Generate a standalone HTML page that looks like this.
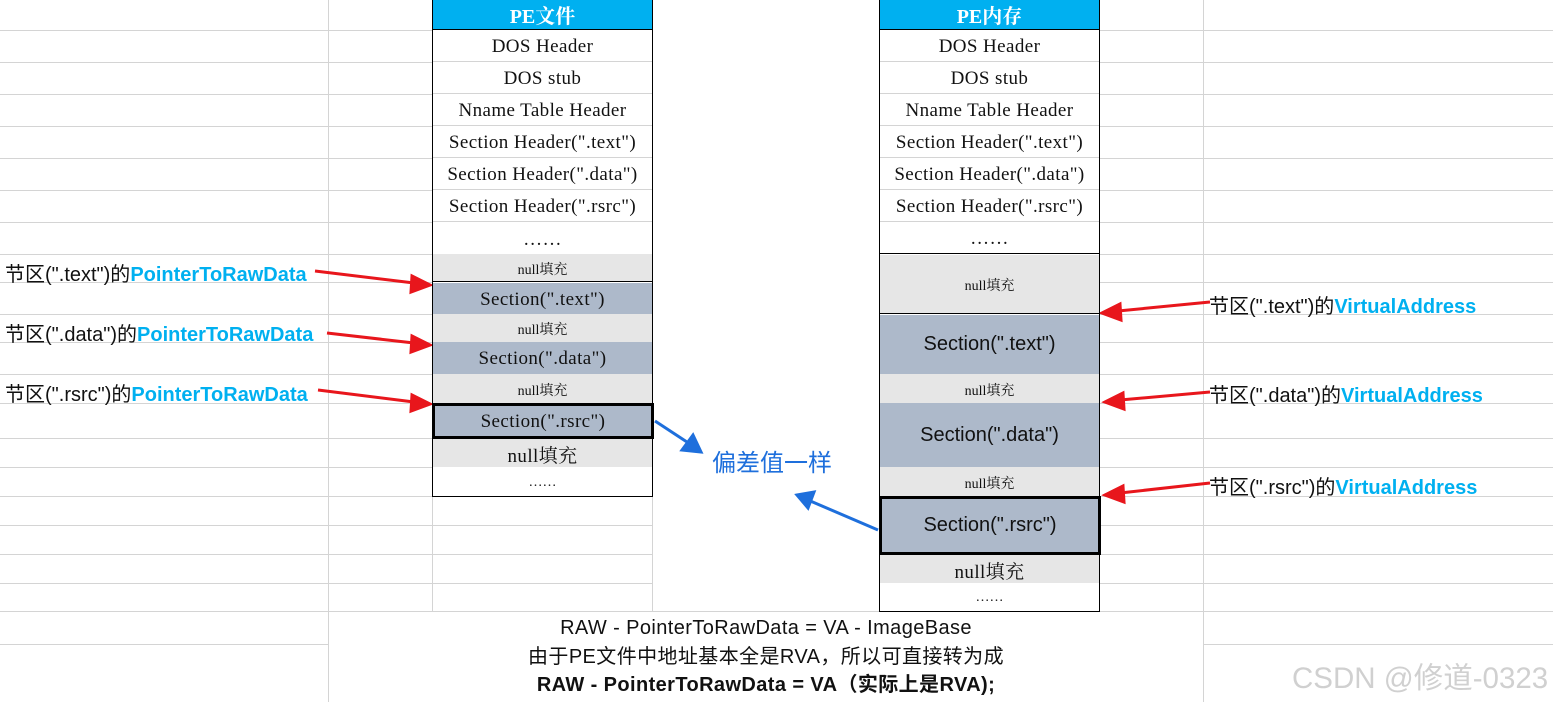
<!DOCTYPE html>
<html><head><meta charset="utf-8"><style>
*{margin:0;padding:0;box-sizing:border-box}
body{width:1553px;height:702px;position:relative;background:#fff;overflow:hidden;font-family:"Liberation Sans","Noto Sans CJK SC",sans-serif}
.c{position:absolute;display:flex;align-items:center;justify-content:center;white-space:nowrap;color:#111}
.s{font-family:"Liberation Serif","Noto Serif CJK SC",serif;font-size:19px;letter-spacing:0.4px;padding-top:2px}
.sm{font-size:14px;letter-spacing:0}
.g{background:#e6e6e6}
.b{background:#adb9ca}
.h{background:#00b0f0;color:#fff;font-weight:bold;font-size:20px;font-family:"Liberation Serif","Noto Serif CJK SC",serif}
.lbl{position:absolute;font-size:20px;white-space:nowrap;color:#111}
.lbl b{color:#00b0f0}
</style></head><body>
<svg width="1553" height="702" style="position:absolute;left:0;top:0">
<g stroke="#d4d4d4" stroke-width="1">
<path d="M0 30.5H432M0 62.5H432M0 94.5H432M0 126.5H432M0 158.5H432M0 190.5H432M0 222.5H432M0 254.5H432M0 282.5H432M0 314.5H432M0 342.5H432M0 374.5H432M0 403.5H432M0 438.5H432M0 467.5H432M0 496.5H652M0 525.5H652M0 554.5H652M0 583.5H652M0 611.5H1553M0 644.5H328"/>
<path d="M1099 30.5H1553M1099 62.5H1553M1099 94.5H1553M1099 126.5H1553M1099 158.5H1553M1099 190.5H1553M1099 222.5H1553M1099 254.5H1553M1099 282.5H1553M1099 314.5H1553M1099 342.5H1553M1099 374.5H1553M1099 403.5H1553M1099 438.5H1553M1099 467.5H1553M1099 496.5H1553M1099 525.5H1553M1099 554.5H1553M1099 583.5H1553M1203 644.5H1553"/>
<path d="M328.5 0V702M1203.5 0V702M432.5 496V611M652.5 496V611"/>
</g>
<g stroke="#e8161c" stroke-width="3" fill="#e8161c">
<line x1="315" y1="271" x2="414" y2="283"/><polygon points="430,285 412,276 411,292"/>
<line x1="327" y1="333" x2="414" y2="343"/><polygon points="430,345 412,336 411,352"/>
<line x1="318" y1="390" x2="414" y2="402"/><polygon points="430,404 412,395 411,411"/>
<line x1="1210" y1="302" x2="1118" y2="311"/><polygon points="1102,313 1120,304 1121,320"/>
<line x1="1210" y1="392" x2="1120" y2="400"/><polygon points="1105,402 1123,393 1124,409"/>
<line x1="1210" y1="483" x2="1120" y2="493"/><polygon points="1105,495 1123,486 1124,502"/>
</g>
<g stroke="#1e6fdc" stroke-width="3" fill="#1e6fdc">
<line x1="655" y1="421" x2="690" y2="444"/><polygon points="701,452 682,450 693,435"/>
<line x1="878" y1="530" x2="808" y2="500"/><polygon points="797,495 814,492 808,508"/>
</g>
</svg>

<div style="position:absolute;left:432px;top:0;width:221px;height:497px;border:1px solid #000"></div>
<div class="c h" style="left:433px;top:0;width:219px;height:30px;border-bottom:1px solid #000">PE文件</div>
<div class="c s" style="left:433px;top:31px;width:219px;height:31px;border-bottom:1px solid #d4d4d4">DOS Header</div>
<div class="c s" style="left:433px;top:63px;width:219px;height:31px;border-bottom:1px solid #d4d4d4">DOS stub</div>
<div class="c s" style="left:433px;top:95px;width:219px;height:31px;border-bottom:1px solid #d4d4d4">Nname Table Header</div>
<div class="c s" style="left:433px;top:127px;width:219px;height:31px;border-bottom:1px solid #d4d4d4">Section Header(".text")</div>
<div class="c s" style="left:433px;top:159px;width:219px;height:31px;border-bottom:1px solid #d4d4d4">Section Header(".data")</div>
<div class="c s" style="left:433px;top:191px;width:219px;height:31px;border-bottom:1px solid #d4d4d4">Section Header(".rsrc")</div>
<div class="c s" style="left:433px;top:223px;width:219px;height:31px">……</div>
<div class="c s sm g" style="left:433px;top:254px;width:219px;height:28px;border-bottom:1px solid #000">null填充</div>
<div class="c s b" style="left:433px;top:283px;width:219px;height:31px">Section(".text")</div>
<div class="c s sm g" style="left:433px;top:314px;width:219px;height:28px">null填充</div>
<div class="c s b" style="left:433px;top:342px;width:219px;height:32px">Section(".data")</div>
<div class="c s sm g" style="left:433px;top:374px;width:219px;height:29px">null填充</div>
<div class="c s b" style="left:432px;top:403px;width:222px;height:36px;border:3px solid #000">Section(".rsrc")</div>
<div class="c s g" style="left:433px;top:439px;width:219px;height:28px">null填充</div>
<div class="c s sm" style="left:433px;top:467px;width:219px;height:29px">……</div>

<div style="position:absolute;left:879px;top:0;width:221px;height:612px;border:1px solid #000"></div>
<div class="c h" style="left:880px;top:0;width:219px;height:30px;border-bottom:1px solid #000">PE内存</div>
<div class="c s" style="left:880px;top:31px;width:219px;height:31px;border-bottom:1px solid #d4d4d4">DOS Header</div>
<div class="c s" style="left:880px;top:63px;width:219px;height:31px;border-bottom:1px solid #d4d4d4">DOS stub</div>
<div class="c s" style="left:880px;top:95px;width:219px;height:31px;border-bottom:1px solid #d4d4d4">Nname Table Header</div>
<div class="c s" style="left:880px;top:127px;width:219px;height:31px;border-bottom:1px solid #d4d4d4">Section Header(".text")</div>
<div class="c s" style="left:880px;top:159px;width:219px;height:31px;border-bottom:1px solid #d4d4d4">Section Header(".data")</div>
<div class="c s" style="left:880px;top:191px;width:219px;height:31px;border-bottom:1px solid #d4d4d4">Section Header(".rsrc")</div>
<div class="c s" style="left:880px;top:223px;width:219px;height:31px;border-bottom:1px solid #000">……</div>
<div class="c s sm g" style="left:880px;top:255px;width:219px;height:59px;border-bottom:1px solid #000">null填充</div>
<div class="c b" style="left:880px;top:315px;width:219px;height:59px;font-size:20px">Section(".text")</div>
<div class="c s sm g" style="left:880px;top:374px;width:219px;height:29px">null填充</div>
<div class="c b" style="left:880px;top:403px;width:219px;height:64px;font-size:20px">Section(".data")</div>
<div class="c s sm g" style="left:880px;top:467px;width:219px;height:29px">null填充</div>
<div class="c b" style="left:879px;top:496px;width:222px;height:59px;border:3px solid #000;font-size:20px">Section(".rsrc")</div>
<div class="c s g" style="left:880px;top:555px;width:219px;height:28px">null填充</div>
<div class="c s sm" style="left:880px;top:583px;width:219px;height:28px">……</div>

<div class="lbl" style="left:5px;top:258px">节区(".text")的<b>PointerToRawData</b></div>
<div class="lbl" style="left:5px;top:318px">节区(".data")的<b>PointerToRawData</b></div>
<div class="lbl" style="left:5px;top:378px">节区(".rsrc")的<b>PointerToRawData</b></div>
<div class="lbl" style="left:1209px;top:290px">节区(".text")的<b>VirtualAddress</b></div>
<div class="lbl" style="left:1209px;top:379px">节区(".data")的<b>VirtualAddress</b></div>
<div class="lbl" style="left:1209px;top:471px">节区(".rsrc")的<b>VirtualAddress</b></div>

<div class="lbl" style="left:712px;top:443px;font-size:24px;color:#1e6fdc">偏差值一样</div>

<div style="position:absolute;left:329px;top:614px;width:874px;text-align:center;font-size:20px;letter-spacing:0.4px;line-height:28.5px;color:#111">
RAW - PointerToRawData = VA - ImageBase<br>由于PE文件中地址基本全是RVA，所以可直接转为成<br><b>RAW - PointerToRawData = VA（实际上是RVA);</b></div>

<div class="lbl" style="left:1292px;top:655px;font-size:29.5px;color:#d0d0d0">CSDN @修道-0323</div>
</body></html>
